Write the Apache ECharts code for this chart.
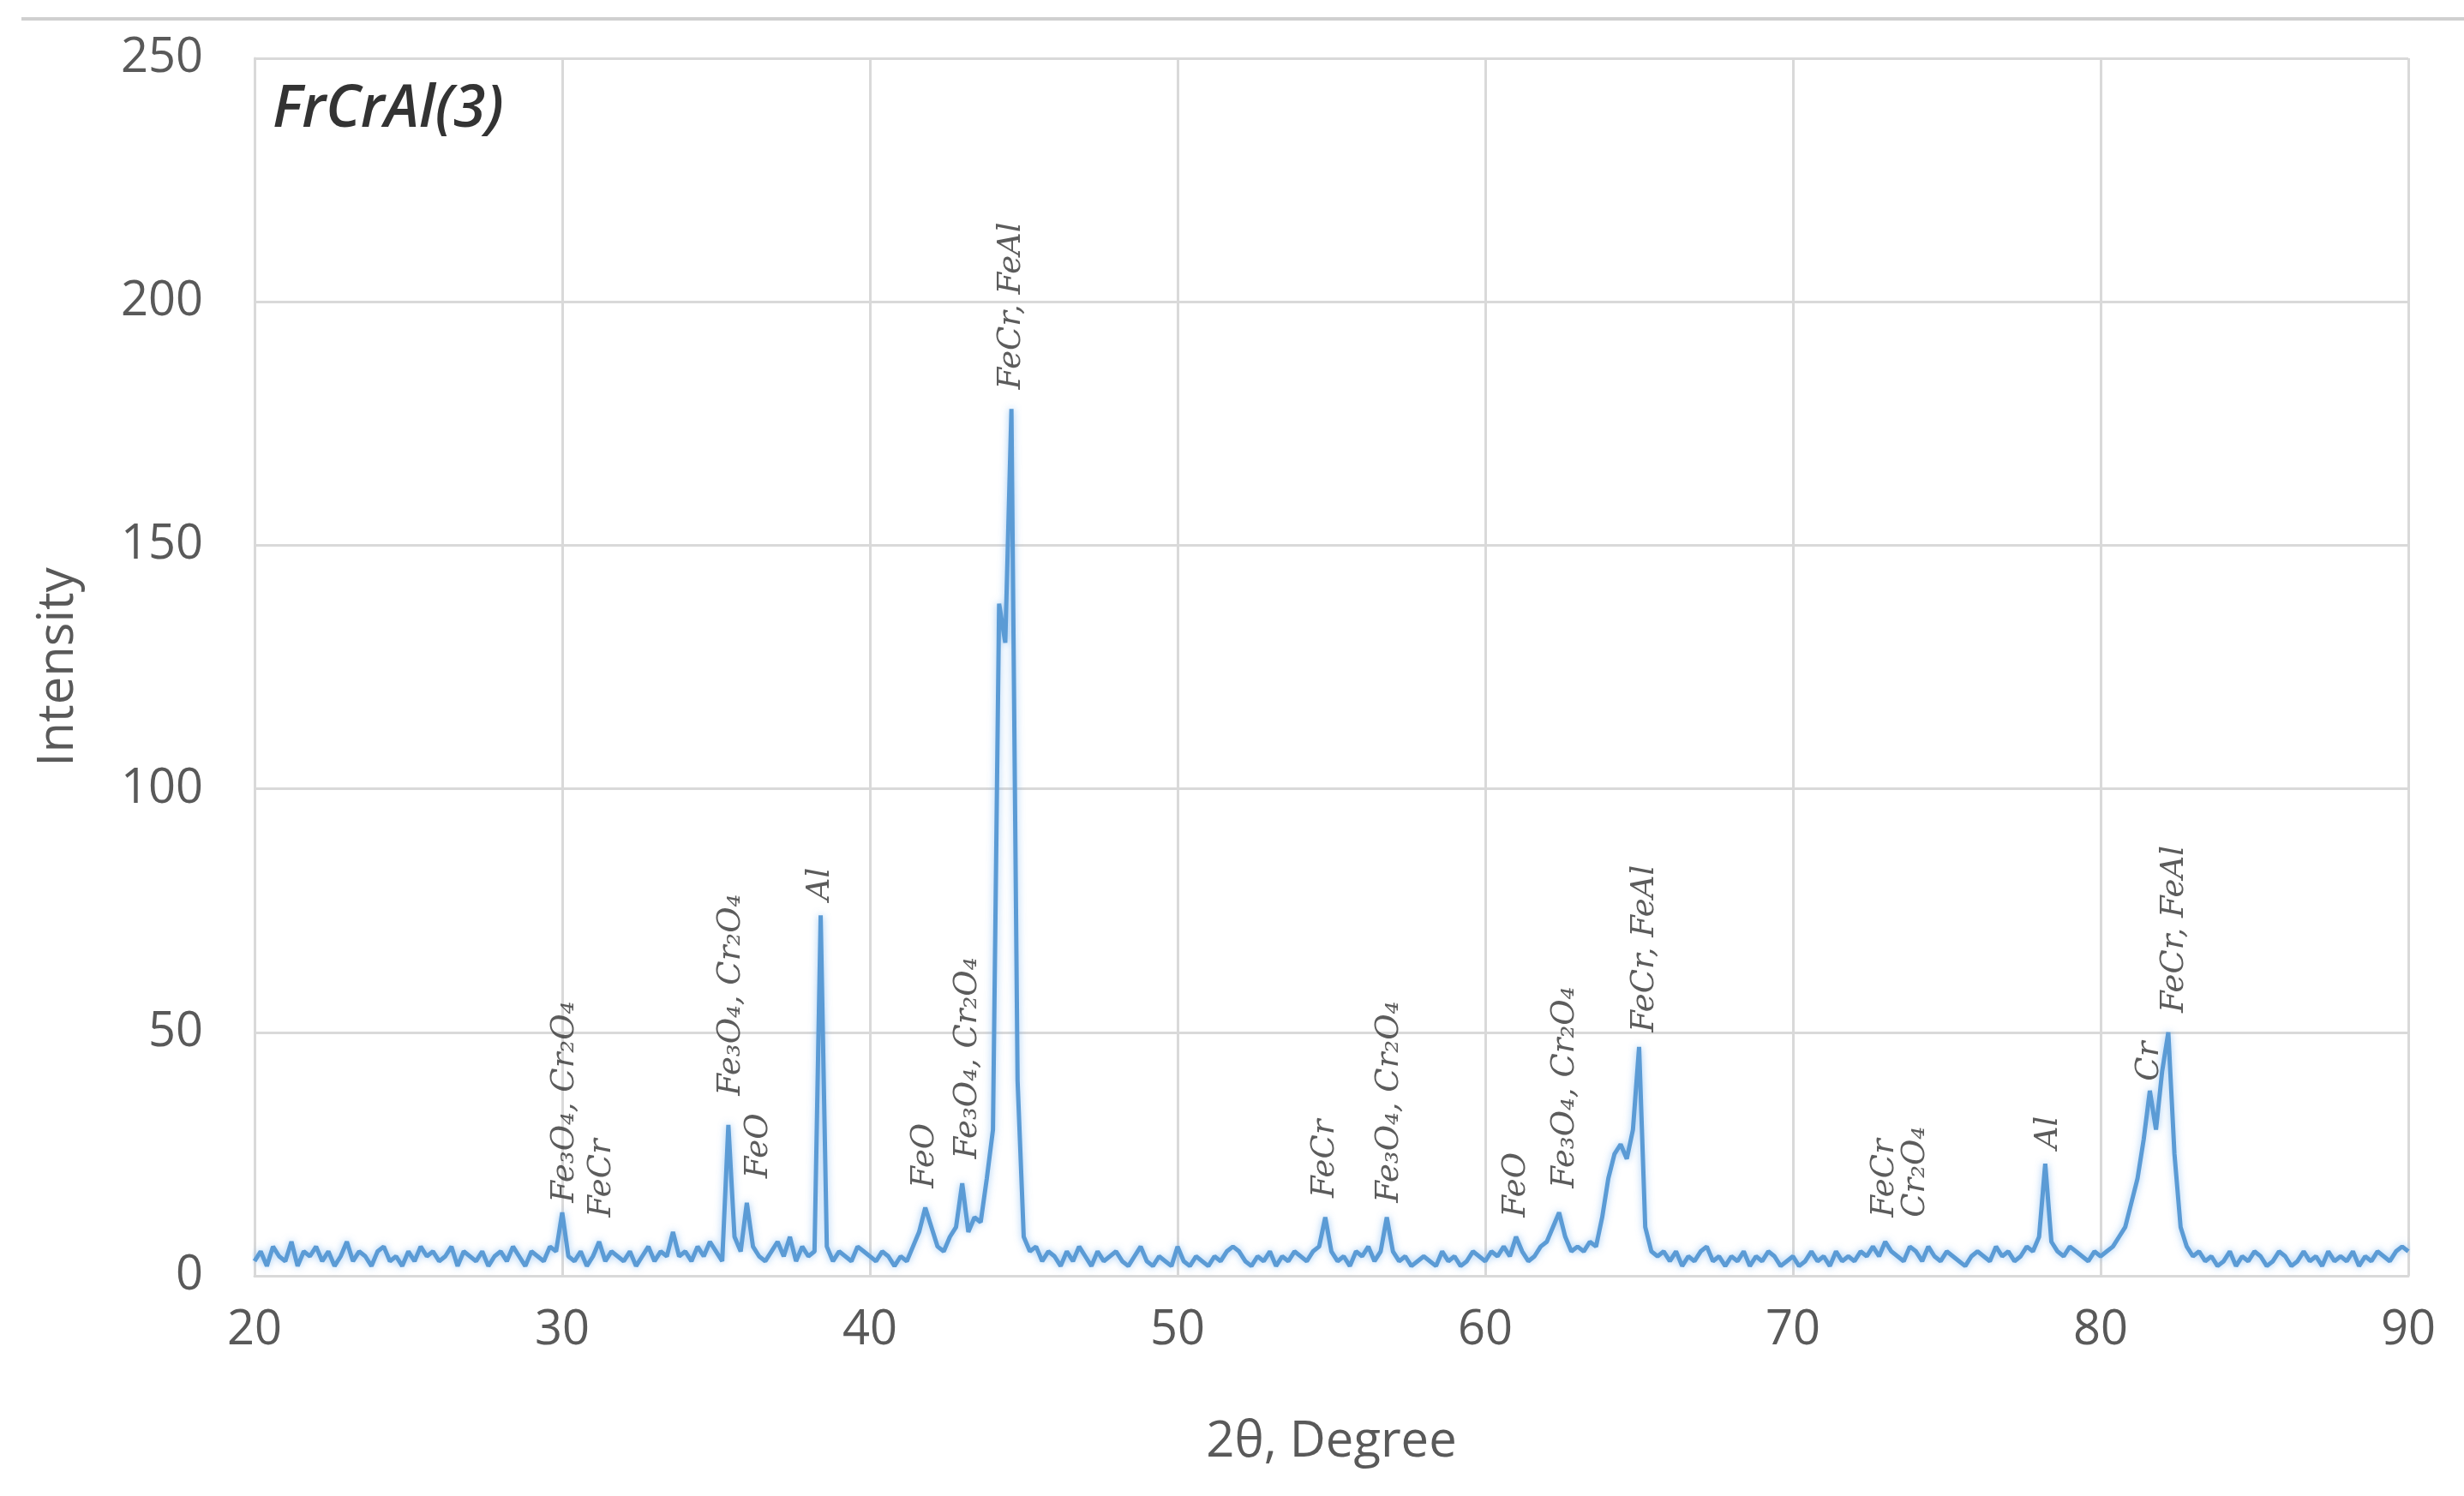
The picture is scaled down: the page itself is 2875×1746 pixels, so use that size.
<!DOCTYPE html>
<html><head><meta charset="utf-8">
<script src="https://cdn.jsdelivr.net/npm/echarts@6/dist/echarts.min.js"></script>
<style>html,body{margin:0;padding:0;background:#fff}#c{width:2875px;height:1746px}</style>
</head><body><div id="c"></div>
<script>
const startAngle = 20, stepAngle = 0.2;
const intensity = [
3,5,2,6,4,3,7,2,5,4,
6,3,5,2,4,7,3,5,4,2,
5,6,3,4,2,5,3,6,4,5,
3,4,6,2,5,4,3,5,2,4,
5,3,6,4,2,5,4,3,6,5,
13,4,3,5,2,4,7,3,5,4,
3,5,2,4,6,3,5,4,9,4,
5,3,6,4,7,5,3,31,8,5,
15,6,4,3,5,7,4,8,3,6,
4,5,74,6,3,5,4,3,6,5,
4,3,5,4,2,4,3,6,9,14,
10,6,5,8,10,19,9,12,11,20,
30,138,130,178,40,8,5,6,3,5,
4,2,5,3,6,4,2,5,3,4,
5,3,2,4,6,3,2,4,3,2,
6,3,2,4,3,2,4,3,5,6,
5,3,2,4,3,5,2,4,3,5,
4,3,5,6,12,5,3,4,2,5,
4,6,3,5,12,5,3,4,2,3,
4,3,2,5,3,4,2,3,5,4,
3,5,4,6,4,8,5,3,4,6,
7,10,13,8,5,6,5,7,6,12,
20,25,27,24,30,47,10,5,4,5,
3,5,2,4,3,5,6,3,4,2,
4,3,5,2,4,3,5,4,2,3,
4,2,3,5,3,4,2,5,3,4,
3,5,4,6,4,7,5,4,3,6,
5,3,6,4,3,5,4,3,2,4,
5,4,3,6,4,5,3,4,6,5,
8,23,7,5,4,6,5,4,3,5,
4,5,6,8,10,15,20,28,38,30,
42,50,25,10,6,4,5,3,4,2,
3,5,2,4,3,5,4,2,3,5,
4,2,3,5,3,4,2,5,3,4,
3,5,2,4,3,5,4,3,5,6,
5];
const peakLabelX = [30.1,31.3,35.5,36.4,38.4,41.8,43.2,44.6,54.8,56.9,61.0,62.6,65.2,73.0,74.0,78.3,81.6,82.4];
const peakLabelY = [15,12,37,20,77,18,24,182,16,15,12,18,50,12,12,26,40,54];
const peakLabelText = ['Fe₃O₄, Cr₂O₄','FeCr','Fe₃O₄, Cr₂O₄','FeO','Al','FeO','Fe₃O₄, Cr₂O₄','FeCr, FeAl','FeCr','Fe₃O₄, Cr₂O₄','FeO','Fe₃O₄, Cr₂O₄','FeCr, FeAl','FeCr','Cr₂O₄','Al','Cr','FeCr, FeAl'];
const xTicks = [20,30,40,50,60,70,80,90];
const yTicks = [0,50,100,150,200,250];

const lineData = intensity.map((v,i)=>[+(startAngle+i*stepAngle).toFixed(1), v]);
const labelData = peakLabelX.map((x,i)=>({value:[x,peakLabelY[i]], name:peakLabelText[i]}));
const gridColor = '#d9d9d9';
const chart = echarts.init(document.getElementById('c'));
chart.setOption({
  backgroundColor:'#fff',
  animation:false,
  grid:{left:297,right:65,top:68,bottom:257},
  xAxis:{type:'value',min:20,max:90,interval:10,
    name:'2θ, Degree',nameLocation:'middle',nameGap:165,
    nameTextStyle:{fontFamily:'Open Sans',fontSize:58,color:'#595959'},
    axisLine:{lineStyle:{color:gridColor,width:3}},axisTick:{show:false},
    axisLabel:{fontFamily:'Open Sans',fontSize:56,color:'#595959',margin:36},
    splitLine:{show:true,lineStyle:{color:gridColor,width:3}}},
  yAxis:{type:'value',min:0,max:250,interval:50,
    name:'Intensity',nameLocation:'middle',nameGap:200,
    nameTextStyle:{fontFamily:'Open Sans',fontSize:58,color:'#595959'},
    axisLine:{show:true,lineStyle:{color:gridColor,width:3}},axisTick:{show:false},
    axisLabel:{fontFamily:'Open Sans',fontSize:56,color:'#595959',margin:60},
    splitLine:{show:true,lineStyle:{color:gridColor,width:3}}},
  graphic:[
    {type:'line',shape:{x1:25,y1:22,x2:2875,y2:22},style:{stroke:'#d0d0d0',lineWidth:4}},
    {type:'text',left:318,top:95,style:{text:'FrCrAl(3)',font:'italic 600 68px "Open Sans"',fill:'#333'}}
  ],
  series:[
    {type:'line',data:lineData,showSymbol:false,symbol:'none',
      lineStyle:{color:'#5b9bd5',width:5,shadowColor:'rgba(120,180,240,0.7)',shadowBlur:8},z:3},
    {type:'scatter',data:labelData,symbolSize:0,z:4,
      label:{show:true,formatter:p=>p.name,position:'inside',rotate:90,align:'left',verticalAlign:'middle',
        fontFamily:'DejaVu Serif',fontStyle:'italic',fontSize:37,color:'#333'}}
  ]
});
</script></body></html>
